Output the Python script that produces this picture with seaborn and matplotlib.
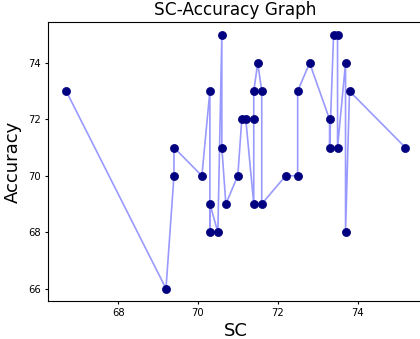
import matplotlib
matplotlib.use("Agg")
import matplotlib.pyplot as plt
import seaborn as sns
import pandas as pd

sc = [66.7, 69.2, 69.4, 69.4, 70.1, 70.3, 70.3, 70.3, 70.5, 70.6, 70.6, 70.7,
      71.0, 71.1, 71.2, 71.4, 71.4, 71.4, 71.5, 71.6, 71.6, 72.2, 72.5, 72.5,
      72.8, 73.3, 73.3, 73.4, 73.5, 73.5, 73.7, 73.7, 73.8, 75.2]
accuracy = [73, 66, 70, 71, 70, 73, 68, 69, 68, 75, 71, 69,
            70, 72, 72, 69, 72, 73, 74, 73, 69, 70, 70, 73,
            74, 72, 71, 75, 75, 71, 74, 68, 73, 71]

df = pd.DataFrame({"SC": sc, "Accuracy": accuracy})

fig = plt.figure(figsize=(4.2, 3.39), dpi=100)
ax = fig.add_axes([0.114, 0.112, 0.893, 0.823])

sns.lineplot(data=df, x="SC", y="Accuracy", sort=False, estimator=None,
             color="blue", alpha=0.4, linewidth=1.2, ax=ax)
sns.scatterplot(data=df, x="SC", y="Accuracy", color="navy", s=34,
                edgecolor="navy", linewidth=0.5, zorder=3, ax=ax)

ax.set_xlim(66.24, 75.64)
ax.set_ylim(65.56, 75.45)
ax.set_xticks([68, 70, 72, 74])
ax.set_yticks([66, 68, 70, 72, 74])
ax.tick_params(labelsize=7.2, length=2.2, pad=3)
ax.set_title("SC-Accuracy Graph", fontsize=12.2, pad=5)
ax.set_xlabel("SC", fontsize=13, labelpad=3)
ax.set_ylabel("Accuracy", fontsize=13, labelpad=4)

fig.savefig("out.png", dpi=100)
